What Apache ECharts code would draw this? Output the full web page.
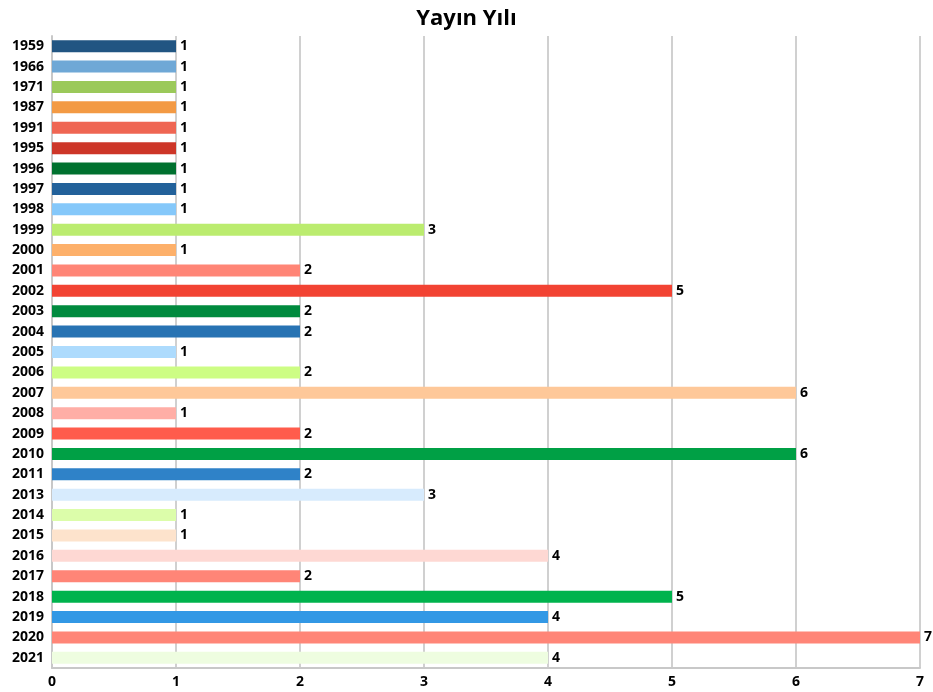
<!DOCTYPE html>
<html><head><meta charset="utf-8">
<script src="https://cdn.jsdelivr.net/npm/echarts@6/dist/echarts.min.js"></script>
<style>html,body{margin:0;padding:0;background:#fff}#c{width:933px;height:692px}</style>
</head><body><div id="c"></div>
<script>
const years = ['1959','1966','1971','1987','1991','1995','1996','1997','1998','1999','2000','2001','2002','2003','2004','2005','2006','2007','2008','2009','2010','2011','2013','2014','2015','2016','2017','2018','2019','2020','2021'];
const counts = [1,1,1,1,1,1,1,1,1,3,1,2,5,2,2,1,2,6,1,2,6,2,3,1,1,4,2,5,4,7,4];
const barColors = ['#215582','#6fa8d6','#9bc95a','#f39a44','#ef6653','#cd3628','#00712f','#22619a','#85c8fa','#bbec6f','#fdb06a','#ff8576','#f24333','#008a3e','#2873b3','#addbfd','#cdfd84','#fec899','#ffaea6','#ff5c4c','#00a045','#2f82c8','#d7ebfd','#dcfdaa','#fde3cc','#fed8d3','#ff8577','#00b34d','#3298e5','#ff8577','#eefde0'];
const xTicks = [0,1,2,3,4,5,6,7];
const font = '"Open Sans", "DejaVu Sans", sans-serif';
const chart = echarts.init(document.getElementById('c'));
chart.setOption({
  animation: false,
  title: {text: 'Yayın Yılı', left: 'center', top: 3, textStyle: {fontFamily: font, fontWeight: 'bold', fontSize: 22, color: '#000'}},
  grid: {left: 52, right: 13, top: 36, bottom: 24, containLabel: false},
  xAxis: {type: 'value', min: xTicks[0], max: xTicks[xTicks.length-1], interval: 1,
    axisLine: {show: true, lineStyle: {color: '#c8c8c8', width: 2}},
    axisTick: {show: false},
    splitLine: {show: true, lineStyle: {color: '#d0d0d0', width: 2}},
    axisLabel: {fontFamily: font, fontWeight: 'bold', fontSize: 14, color: '#000', margin: 7}},
  yAxis: {type: 'category', data: years, inverse: true,
    axisLine: {show: true, lineStyle: {color: '#c8c8c8', width: 2}},
    axisTick: {show: false},
    axisLabel: {fontFamily: font, fontWeight: 'bold', fontSize: 14, color: '#000', margin: 8}},
  series: [{type: 'bar', barWidth: 12,
    data: counts.map((v, i) => ({value: v, itemStyle: {color: barColors[i]}})),
    label: {show: true, position: 'right', distance: 4, fontFamily: font, fontWeight: 'bold', fontSize: 14, color: '#000'}}]
});
</script></body></html>
